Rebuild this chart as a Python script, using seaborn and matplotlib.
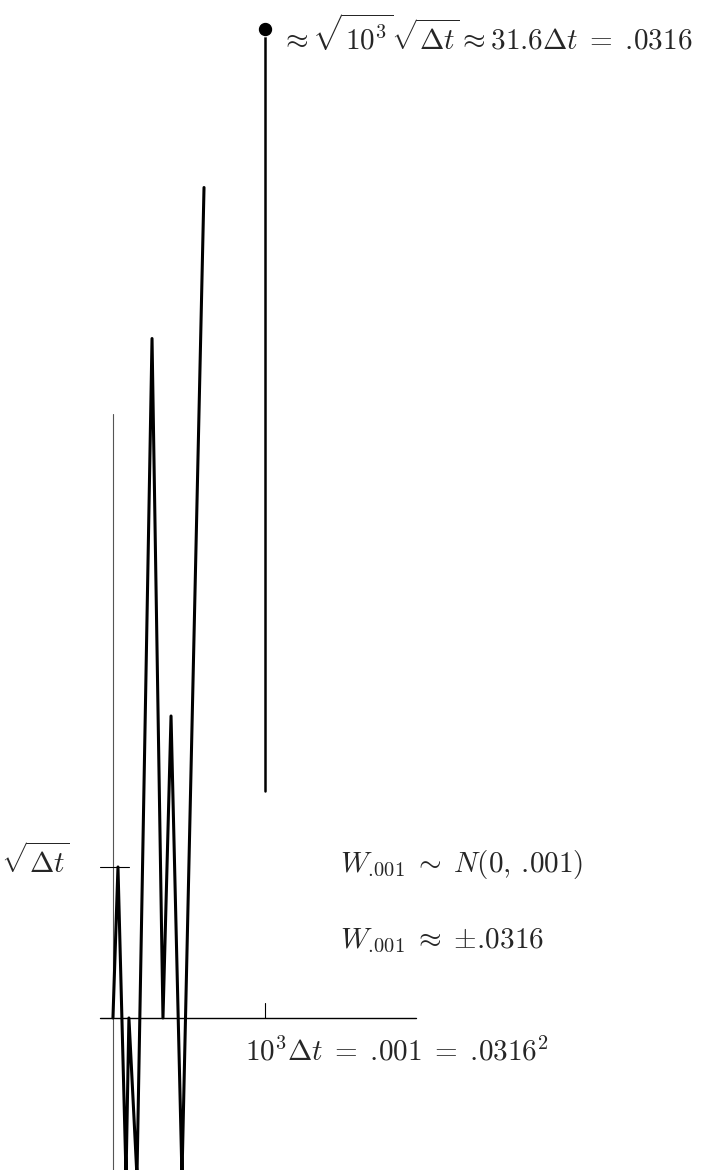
import matplotlib
matplotlib.use("Agg")
import matplotlib.pyplot as plt
import seaborn as sns

# Random walk sketch: time in units of dt, value in units of sqrt(dt)
walk_t = [0, 33, 86, 105, 158, 257, 329, 382, 454, 599]
walk_w = [0, 1.0, -1.05, 0, -1.05, 4.5, 0, 2.0, -1.05, 5.5]

# spread of W at t = 1000 dt
end_t = [1000, 1000]
end_w = [1.5, 6.55]

label_sqrt = r"$\sqrt{\Delta t}$"
label_dist = r"$W_{.\!001} \;\sim\; N(0,\,.\!001)$"
label_approx = r"$W_{.\!001} \;\approx\; {\pm}.\!0316$"
label_time = r"$10^3\Delta t \;=\; .\!001 \;=\; .\!0316^2$"
label_top = r"$\approx \sqrt{10^3}\sqrt{\Delta t} \approx 31.6\Delta t \;=\; .\!0316$"

sns.set_theme(style="white")
plt.rcParams["mathtext.fontset"] = "cm"
plt.rcParams["font.family"] = ["DejaVu Sans"]

fig = plt.figure(figsize=(7.06, 11.7), dpi=100)
ax = fig.add_axes([0, 0, 1, 1])
ax.set_xlim(-743, 3901)
ax.set_ylim(-1.007, 6.742)
ax.axis("off")

# axes drawn by hand
ax.plot([-86, 1993], [0, 0], color="black", lw=1.0)
ax.plot([0, 0], [-1.1, 4.0], color="#555555", lw=0.8)
ax.plot([-86, 105], [1, 1], color="black", lw=0.8)
ax.plot([1000, 1000], [0, 0.1], color="black", lw=0.8)

sns.lineplot(x=walk_t, y=walk_w, sort=False, estimator=None, color="black", lw=2.2, ax=ax)
sns.lineplot(x=end_t, y=end_w, sort=False, estimator=None, color="black", lw=1.8, ax=ax)
sns.scatterplot(x=[end_t[1]], y=[end_w[1]], color="black", s=110, ax=ax, zorder=5)

fs = 21
ax.text(-735, 0.96, label_sqrt, fontsize=fs, va="baseline")
ax.text(1493, 0.967, label_dist, fontsize=fs, va="baseline")
ax.text(1493, 0.464, label_approx, fontsize=fs, va="baseline")
ax.text(868, -0.28, label_time, fontsize=fs, va="baseline")
ax.text(1100, 6.41, label_top, fontsize=fs, va="baseline")

fig.savefig("out.png", dpi=100)
plt.close()
